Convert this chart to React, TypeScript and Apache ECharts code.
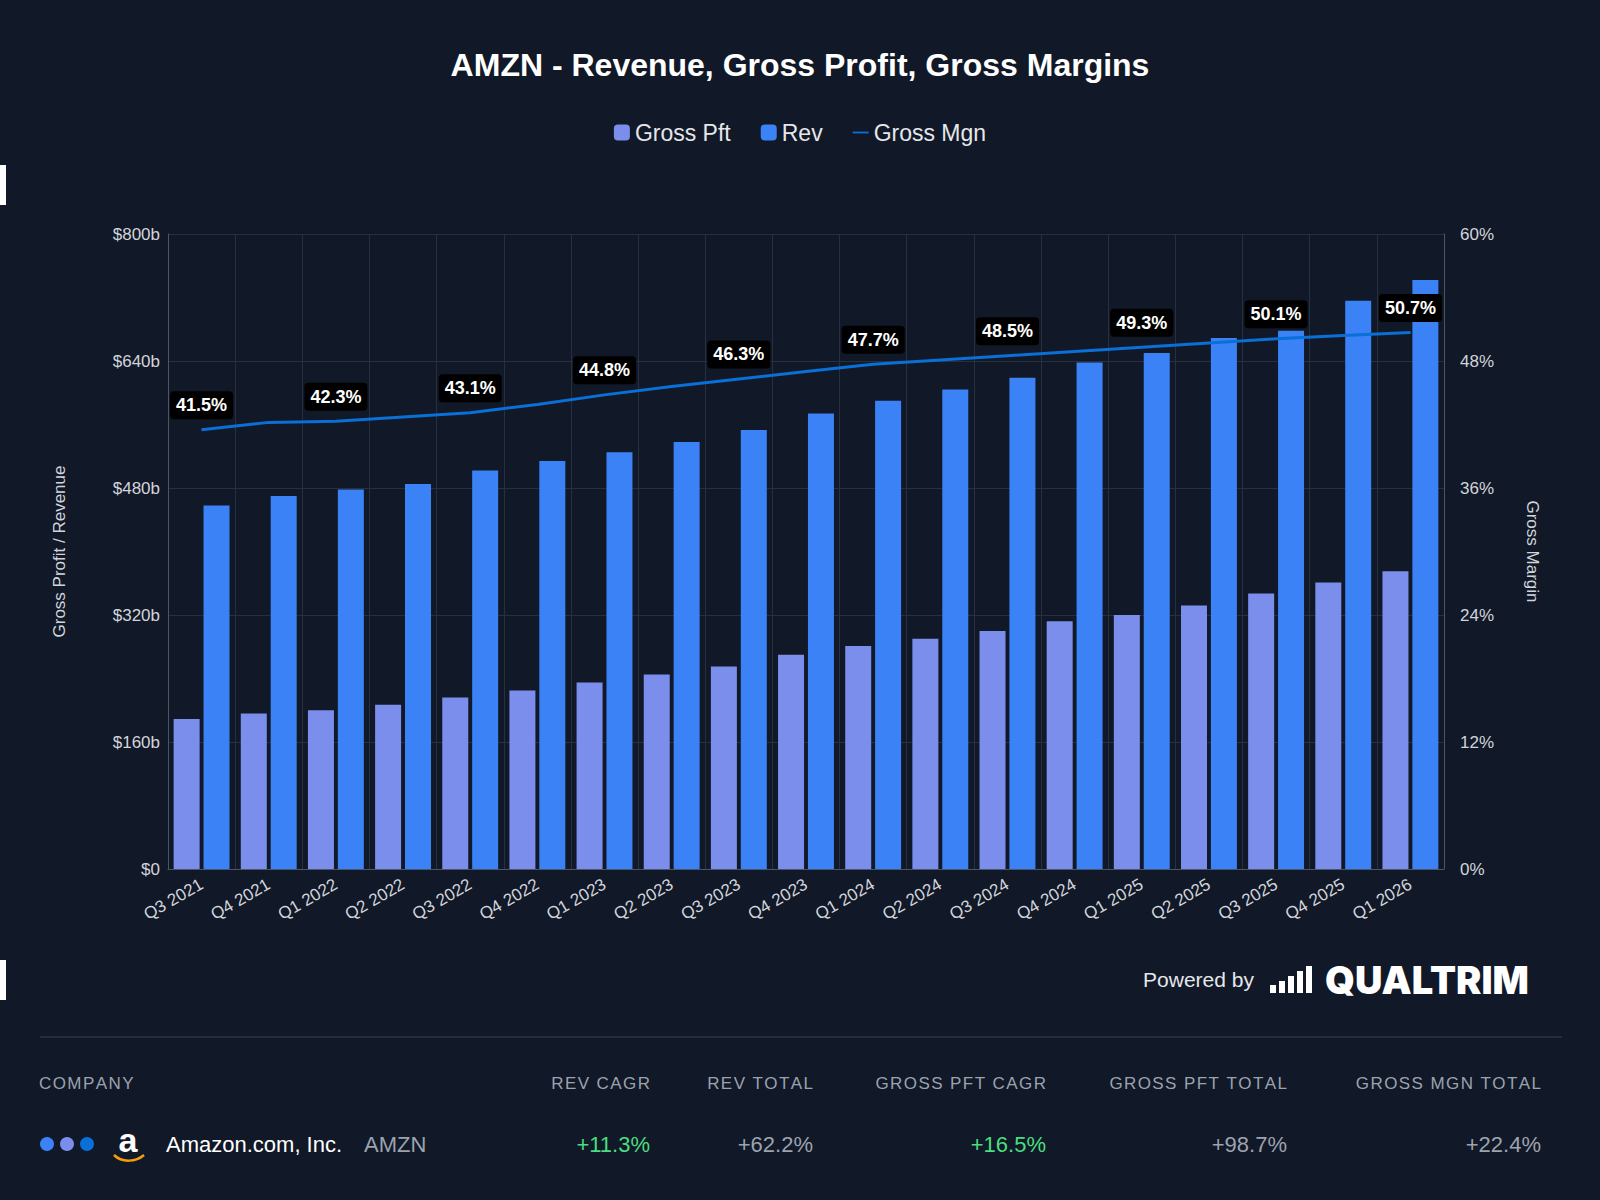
import React, { useEffect, useRef } from "react";
import * as echarts from "echarts";

const categories = ["Q3 2021","Q4 2021","Q1 2022","Q2 2022","Q3 2022","Q4 2022","Q1 2023","Q2 2023","Q3 2023","Q4 2023","Q1 2024","Q2 2024","Q3 2024","Q4 2024","Q1 2025","Q2 2025","Q3 2025","Q4 2025","Q1 2026"];
const grossPft = [189,196,200,207,216,225,235,245,255,270,281,290,300,312,320,332,347,361,375];
const rev = [458,470,478,485,502,514,525,538,553,574,590,604,619,638,650,669,678,716,742];
const grossMgn = [41.5,42.2,42.3,42.7,43.1,43.9,44.8,45.6,46.3,47.0,47.7,48.1,48.5,48.9,49.3,49.7,50.1,50.4,50.7];

const F = "Helvetica, 'Liberation Sans', Arial, sans-serif";
const spaced = (t: string) => t.split("").join("\u200A");

export default function App() {
  const ref = useRef<HTMLDivElement>(null);
  useEffect(() => {
    document.body.style.margin = "0";
    const chart = echarts.init(ref.current!, null, { renderer: "svg" });
    const hdr = (x: number, t: string, align: string) => ({ type: "text", x, y: 1083, style: { text: spaced(t), fill: "#9ca3af", font: `17px ${F}`, textAlign: align, textVerticalAlign: "middle" } });
    const val = (x: number, t: string, c: string) => ({ type: "text", x, y: 1144, style: { text: t, fill: c, font: `22px ${F}`, textAlign: "right", textVerticalAlign: "middle" } });
    chart.setOption({
      animation: false,
      backgroundColor: "#111827",
      textStyle: { fontFamily: F },
      title: { text: "AMZN - Revenue, Gross Profit, Gross Margins", left: "center", top: 44, textStyle: { color: "#fff", fontSize: 32, fontWeight: "bold", fontFamily: F } },
      legend: { top: 116, left: "center", itemWidth: 16, itemHeight: 16, itemGap: 30, textStyle: { color: "#e5e7eb", fontSize: 23, fontFamily: F },
        data: [{ name: "Gross Pft", icon: "roundRect" }, { name: "Rev", icon: "roundRect" }, { name: "Gross Mgn", icon: "path://M0,7H26V10H0Z", itemStyle: { color: "#0a6fd6" } }] },
      grid: { left: 168, right: 156, top: 234, bottom: 331 },
      xAxis: { type: "category", data: categories, axisLine: { lineStyle: { color: "#4b5563" } }, axisTick: { show: false },
        splitLine: { show: true, lineStyle: { color: "#263041" } },
        axisLabel: { color: "#d1d5db", fontSize: 17, rotate: 30, interval: 0, margin: 14 } },
      yAxis: [
        { type: "value", min: 0, max: 800, interval: 160, name: "Gross Profit / Revenue", nameLocation: "middle", nameGap: 100, nameTextStyle: { color: "#d1d5db", fontSize: 17 },
          axisLabel: { color: "#d1d5db", fontSize: 17, formatter: (v: number) => "$" + (v === 0 ? "0" : v + "b") }, splitLine: { lineStyle: { color: "#263041" } }, axisLine: { show: true, lineStyle: { color: "#4b5563" } } },
        { type: "value", min: 0, max: 60, interval: 12, name: "Gross Margin", nameLocation: "middle", nameGap: 80, nameRotate: -90, nameTextStyle: { color: "#d1d5db", fontSize: 17 },
          axisLabel: { color: "#d1d5db", fontSize: 17, formatter: "{value}%", margin: 16 }, splitLine: { show: false }, axisLine: { show: true, lineStyle: { color: "#4b5563" } } },
      ],
      series: [
        { name: "Gross Pft", type: "bar", data: grossPft, itemStyle: { color: "#7b8eec" }, barWidth: 26, barGap: "15%" },
        { name: "Rev", type: "bar", data: rev, itemStyle: { color: "#3b82f6" }, barWidth: 26 },
        { name: "Gross Mgn", type: "line", yAxisIndex: 1, showSymbol: true, symbol: "circle", symbolSize: 1, lineStyle: { color: "#0a6fd6", width: 3 }, itemStyle: { color: "#0a6fd6" },
          data: grossMgn.map((v, i) => ({ value: v, label: { show: i % 2 === 0 } })),
          label: { position: "top", distance: 10, formatter: (p: any) => p.value.toFixed(1) + "%", color: "#fff", fontWeight: "bold", fontSize: 18, backgroundColor: "#000", borderRadius: 4, padding: [5, 6] }, z: 5 },
      ],
      graphic: [
        { type: "rect", shape: { x: 0, y: 165, width: 6, height: 40 }, style: { fill: "#fff" } },
        { type: "rect", shape: { x: 0, y: 960, width: 6, height: 40 }, style: { fill: "#fff" } },
        { type: "text", x: 1254, y: 979, style: { text: "Powered by", fill: "#e5e7eb", font: `21px ${F}`, textAlign: "right", textVerticalAlign: "middle" } },
        ...[8, 12, 17, 22, 27].map((h, i) => ({ type: "rect", shape: { x: 1270 + i * 9, y: 993 - h, width: 6, height: h }, style: { fill: "#fff" } })),
        { type: "text", x: 1325, y: 980, style: { text: "QUALTRIM", fill: "#fff", font: `900 38px 'Inter', ${F}`, textVerticalAlign: "middle" } },
        { type: "line", shape: { x1: 40, y1: 1037, x2: 1562, y2: 1037 }, style: { stroke: "#374151", lineWidth: 1 } },
        hdr(39, "COMPANY", "left"), hdr(650, "REV CAGR", "right"), hdr(813, "REV TOTAL", "right"), hdr(1046, "GROSS PFT CAGR", "right"), hdr(1287, "GROSS PFT TOTAL", "right"), hdr(1541, "GROSS MGN TOTAL", "right"),
        { type: "circle", shape: { cx: 47, cy: 1144, r: 7 }, style: { fill: "#3b82f6" } },
        { type: "circle", shape: { cx: 67, cy: 1144, r: 7 }, style: { fill: "#7b8eec" } },
        { type: "circle", shape: { cx: 87, cy: 1144, r: 7 }, style: { fill: "#0a6fd6" } },
        { type: "text", x: 128, y: 1140, style: { text: "a", fill: "#fff", font: `bold 34px ${F}`, textAlign: "center", textVerticalAlign: "middle" } },
        { type: "bezierCurve", shape: { x1: 114, y1: 1155, x2: 144, y2: 1155, cpx1: 122, cpy1: 1163, cpx2: 136, cpy2: 1162 }, style: { stroke: "#f59e0b", lineWidth: 2.5, fill: null } },
        { type: "text", x: 166, y: 1144, style: { text: "Amazon.com, Inc.", fill: "#fff", font: `22px ${F}`, textVerticalAlign: "middle" } },
        { type: "text", x: 364, y: 1144, style: { text: "AMZN", fill: "#9ca3af", font: `22px ${F}`, textVerticalAlign: "middle" } },
        val(650, "+11.3%", "#4ade80"), val(813, "+62.2%", "#9ca3af"), val(1046, "+16.5%", "#4ade80"), val(1287, "+98.7%", "#9ca3af"), val(1541, "+22.4%", "#9ca3af"),
      ],
    });
    return () => chart.dispose();
  }, []);
  return <div ref={ref} style={{ width: 1600, height: 1200 }} />;
}
